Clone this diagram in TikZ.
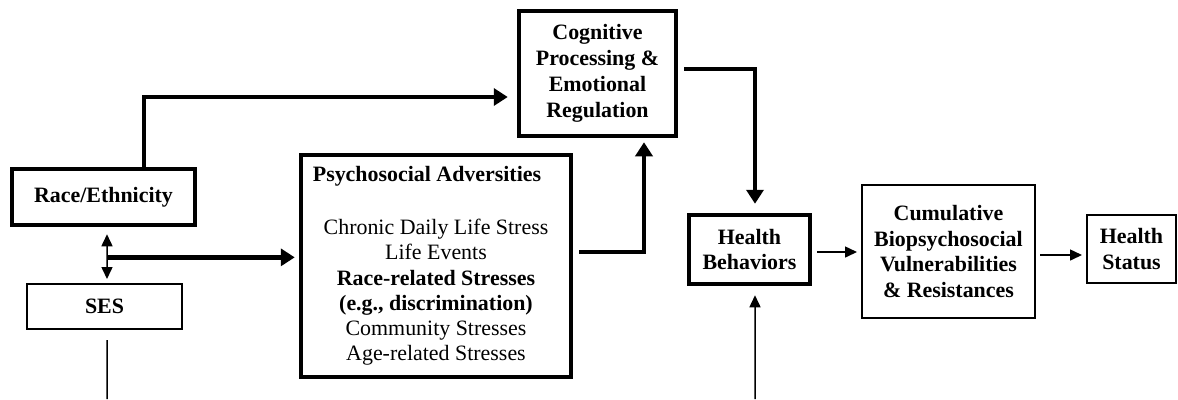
\documentclass[tikz,border=0pt]{standalone}
\usepackage{fontspec}
\setmainfont{Liberation Serif}
\usetikzlibrary{arrows.meta,positioning,calc}

\begin{document}
\begin{tikzpicture}[x=1bp,y=-1bp,
    thickbox/.style={draw,line width=4.5bp,inner sep=0pt,align=center,
        font=\fontsize{22}{26}\selectfont\bfseries},
    thinbox/.style={draw,line width=2bp,inner sep=0pt,align=center,
        font=\fontsize{22}{26}\selectfont\bfseries},
    boldarrow/.style={line width=4.5bp,-{Triangle[length=14bp,width=17bp]}},
    thinarrow/.style={line width=1.5bp,-{Triangle[length=12bp,width=11bp]}},
    thinline/.style={line width=1.5bp}]
    \useasboundingbox (0,0) rectangle (1178,399);
    % boxes
    \node[thickbox,minimum width=183bp,minimum height=56bp] (race) at (103.5,197) {Race/Ethnicity};
    \node[thinbox,minimum width=155bp,minimum height=45bp] (ses) at (104.5,306.5) {SES};
    \node[thickbox,minimum width=270bp,minimum height=222bp,
        font=\fontsize{22}{25.3}\selectfont] (psych) at (436,266)
        {\hspace*{-18bp}\textbf{Psychosocial Adversities}\\[27.7bp]
         Chronic Daily Life Stress\\
         Life Events\\
         \textbf{Race-related Stresses}\\
         \textbf{(e.g., discrimination)}\\
         Community Stresses\\
         Age-related Stresses};
    \node[thickbox,minimum width=157bp,minimum height=125bp] (cog) at (597.5,73.5)
        {Cognitive\\Processing \&\\Emotional\\Regulation};
    \node[thickbox,minimum width=121bp,minimum height=69bp] (hb) at (749.5,249.5)
        {Health\\Behaviors};
    \node[thinbox,minimum width=173bp,minimum height=133bp] (cum) at (948.5,251.5)
        {Cumulative\\Biopsychosocial\\Vulnerabilities\\\& Resistances};
    \node[thinbox,minimum width=89bp,minimum height=68bp] (hs) at (1131.5,249)
        {Health\\Status};
    % loose ends at the bottom edge
    \coordinate (sesend) at (107,399);
    \coordinate (hbstart) at (755,399);
    % connectors
    \draw[thinline,{Triangle[length=12bp,width=11bp]}-{Triangle[length=12bp,width=11bp]},
        shorten <=7bp,shorten >=4bp]
        ([xshift=3.5bp]race.south) -- ([xshift=2.5bp]ses.north) coordinate[pos=0.54] (fork);
    \draw[boldarrow,shorten >=4bp] (fork) -- (fork -| psych.west);
    \draw[boldarrow,shorten >=9bp] ([xshift=40.5bp]race.north) |- ([yshift=-23.5bp]cog.west);
    \draw[boldarrow,shorten <=6bp,shorten >=4bp] ([yshift=14bp]psych.east) -| ([xshift=46.5bp]cog.south);
    \draw[boldarrow,shorten <=6bp,shorten >=9bp] ([yshift=4.5bp]cog.east) -| ([xshift=5.5bp]hb.north);
    \draw[thinarrow,shorten <=5bp,shorten >=4bp] ([yshift=-2.5bp]hb.east) -- ([yshift=-2.5bp]cum.west |- hb.east);
    \draw[thinarrow,shorten <=4bp,shorten >=4bp] ([yshift=-3.5bp]cum.east) -- ([yshift=-3.5bp]hs.west |- cum.east);
    \draw[thinline,shorten <=10bp] ([xshift=2.5bp]ses.south) -- (sesend);
    \draw[thinarrow,shorten >=9bp] (hbstart) -- ([xshift=5.5bp]hb.south);
\end{tikzpicture}
\end{document}
